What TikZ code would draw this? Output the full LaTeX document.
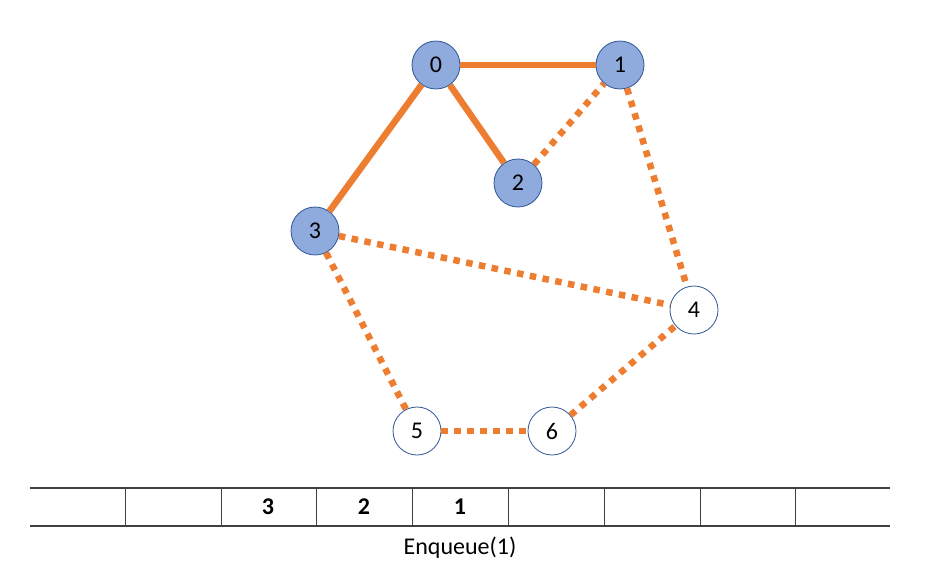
\documentclass[tikz,border=0pt]{standalone}
\usepackage{fontspec}
\setmainfont{Carlito}
\usetikzlibrary{calc}
\definecolor{edgeorange}{HTML}{ED7D31}
\definecolor{nodeblue}{HTML}{8FAADC}
\definecolor{rimblue}{HTML}{2F5597}
\definecolor{queuegray}{HTML}{404040}

\begin{document}
\begin{tikzpicture}[x=1pt,y=-1pt,
        visited/.style={circle,draw=rimblue,line width=0.8pt,fill=nodeblue,minimum size=48pt,inner sep=0pt,font=\fontsize{24}{28}\selectfont},
        fresh/.style={circle,draw=rimblue,line width=0.8pt,fill=white,minimum size=48pt,inner sep=0pt,font=\fontsize{24}{28}\selectfont},
        treeedge/.style={edgeorange,line width=6.5pt},
        waitedge/.style={edgeorange,line width=6.5pt,dash pattern=on 6.5pt off 6.5pt},
        cell/.style={font=\bfseries\fontsize{24}{28}\selectfont}]
        \useasboundingbox (0,0) rectangle (946,579);

        % Draw the visited vertices
        \node[visited] (v0) at (436,65) {0};
        \node[visited] (v1) at (620,65) {1};
        \node[visited] (v2) at (518,183) {2};
        \node[visited] (v3) at (315,231) {3};

        % Draw the vertices not yet reached
        \node[fresh] (v4) at (694,310) {4};
        \node[fresh] (v5) at (417,431) {5};
        \node[fresh] (v6) at (552,431) {6};

        % Edges already used (solid)
        \draw[treeedge] (v0) -- (v1);
        \draw[treeedge] (v0) -- (v2);
        \draw[treeedge] (v0) -- (v3);

        % Remaining edges (dotted)
        \draw[waitedge] (v2) -- (v1);
        \draw[waitedge] (v1) -- (v4);
        \draw[waitedge] (v3) -- (v4);
        \draw[waitedge] (v3) -- (v5);
        \draw[waitedge] (v5) -- (v6);
        \draw[waitedge] (v6) -- (v4);

        % Queue outline
        \coordinate (QL) at (30,488);
        \coordinate (QR) at (890,488);
        \draw[queuegray,line width=1.5pt] (QL) -- (QR);
        \draw[queuegray,line width=1.5pt] ($(QL)+(0,38)$) -- ($(QR)+(0,38)$);
        \foreach \x in {125,221,316,412,508,604,700,795}
            \draw[queuegray,line width=1pt] (\x,488) -- (\x,526);

        % Queue contents
        \node[cell] (q3) at (268,507) {3};
        \node[cell] (q2) at (364,507) {2};
        \node[cell] (q1) at (460,507) {1};

        % Caption
        \node[font=\fontsize{24}{28}\selectfont] (cap) at (460,548) {Enqueue(1)};
    \end{tikzpicture}
\end{document}
